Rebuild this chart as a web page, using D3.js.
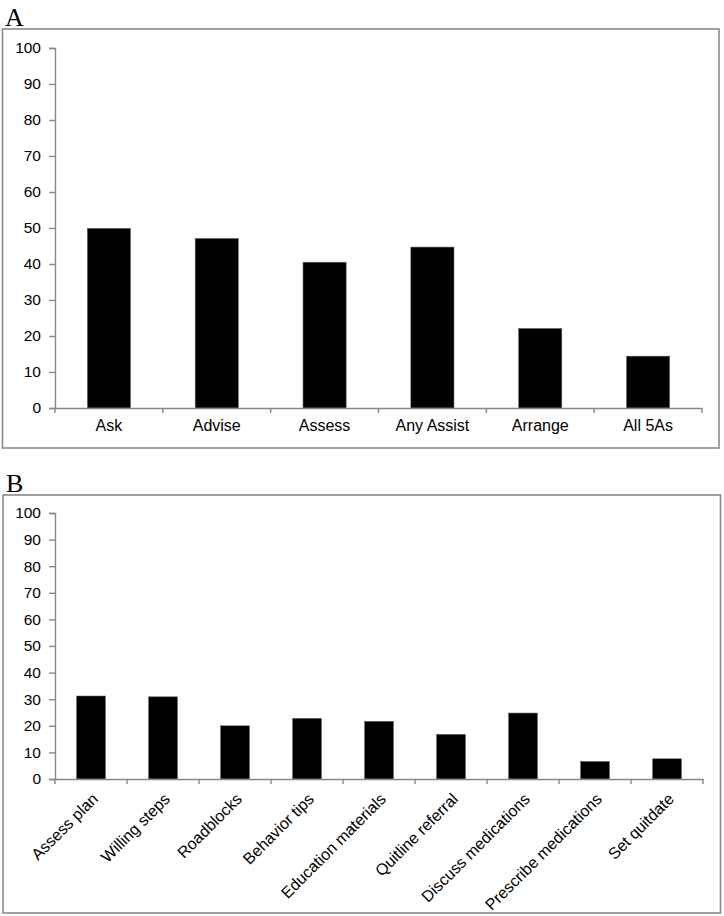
<!DOCTYPE html>
<html>
<head>
<meta charset="utf-8">
<script src="https://cdn.jsdelivr.net/npm/d3@7"></script>
<style>
  body { margin: 0; background: #fff; }
  svg { display: block; }
  .tick text { font-family: "Liberation Sans", Arial, sans-serif; fill: #000; }
  .panel-letter { font-family: "Liberation Serif", "Times New Roman", serif; font-size: 26px; fill: #000; }
</style>
</head>
<body>
<div id="chart"></div>
<script>
// panel A: the 5As
const categoriesA = ["Ask", "Advise", "Assess", "Any Assist", "Arrange", "All 5As"];
const valuesA = [49.9, 47.1, 40.5, 44.7, 22.1, 14.4];

// panel B: assist components
const categoriesB = ["Assess plan", "Willing steps", "Roadblocks", "Behavior tips", "Education materials",
	"Quitline referral", "Discuss medications", "Prescribe medications", "Set quitdate"];
const valuesB = [31.2, 30.9, 20.0, 22.8, 21.7, 16.8, 24.8, 6.6, 7.6];

const yTicks = [0, 10, 20, 30, 40, 50, 60, 70, 80, 90, 100];

const svg = d3.select("#chart").append("svg")
	.attr("width", 724)
	.attr("height", 916);

function drawPanel(opts) {
	let g = svg.append("g");

	// frame
	g.append("rect")
		.attr("x", opts.frame[0])
		.attr("y", opts.frame[1])
		.attr("width", opts.frame[2] - opts.frame[0])
		.attr("height", opts.frame[3] - opts.frame[1])
		.attr("fill", "none")
		.attr("stroke", "#8a8a8a")
		.attr("stroke-width", 1.6);

	g.append("text")
		.attr("class", "panel-letter")
		.attr("x", opts.letterPos[0])
		.attr("y", opts.letterPos[1])
		.text(opts.letter);

	let x = d3.scaleBand()
		.domain(opts.categories)
		.range([opts.left, opts.right])
		.paddingInner(0.6)
		.paddingOuter(0.3);

	let y = d3.scaleLinear()
		.domain([0, 100])
		.range([opts.bottom, opts.top]);

	// y axis
	let yAxis = d3.axisLeft(y)
		.tickValues(yTicks)
		.tickSize(6)
		.tickPadding(8);

	let yg = g.append("g")
		.attr("transform", "translate(" + opts.left + ",0)")
		.call(yAxis);
	yg.selectAll("text").style("font-size", "15.5px");
	yg.selectAll("line, path").attr("stroke", "#888").attr("stroke-width", 1.4);

	// bars
	g.selectAll(".bar")
		.data(opts.values)
		.enter().append("rect")
		.attr("class", "bar")
		.attr("x", (d, i) => x(opts.categories[i]))
		.attr("y", d => y(d))
		.attr("width", x.bandwidth())
		.attr("height", d => y(0) - y(d))
		.attr("fill", "#000")
		.attr("stroke", "#666")
		.attr("stroke-width", 0.6);

	// x axis: line + boundary ticks
	let xAxis = d3.axisBottom(x).tickSize(0).tickPadding(opts.rotate ? 10 : 12);
	let xg = g.append("g")
		.attr("transform", "translate(0," + opts.bottom + ")")
		.call(xAxis);
	xg.select("path").attr("stroke", "#888").attr("stroke-width", 1.4);
	xg.selectAll("text").style("font-size", "16px");

	let bounds = d3.range(opts.categories.length + 1).map(i => opts.left + i * x.step());
	xg.selectAll(".bound")
		.data(bounds)
		.enter().append("line")
		.attr("class", "bound")
		.attr("x1", d => d).attr("x2", d => d)
		.attr("y1", 0).attr("y2", 5)
		.attr("stroke", "#888")
		.attr("stroke-width", 1.4);

	if (opts.rotate) {
		xg.selectAll(".tick text")
			.attr("text-anchor", "end")
			.attr("dy", "0.35em")
			.attr("transform", "translate(-3,10) rotate(-45)");
	}
}

drawPanel({
	letter: "A", letterPos: [5, 26],
	frame: [2.5, 29, 719, 448],
	categories: categoriesA, values: valuesA,
	left: 55, right: 702, top: 48, bottom: 408,
	rotate: false
});

drawPanel({
	letter: "B", letterPos: [6, 492],
	frame: [3, 495, 720.5, 913],
	categories: categoriesB, values: valuesB,
	left: 55, right: 703, top: 513, bottom: 779,
	rotate: true
});
</script>
</body>
</html>
